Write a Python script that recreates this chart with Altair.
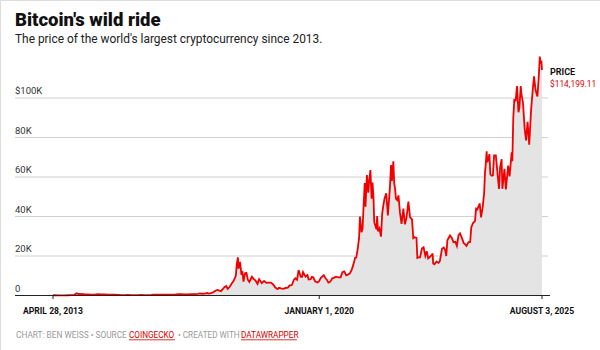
import altair as alt
import pandas as pd

dates = [
 "2013-04-28","2013-05-15","2013-06-15","2013-07-10","2013-08-15","2013-09-15","2013-10-15","2013-11-10","2013-11-30","2013-12-18","2013-12-31",
 "2014-01-15","2014-02-15","2014-03-15","2014-04-10","2014-05-15","2014-06-10","2014-07-15","2014-08-15","2014-09-15","2014-10-15","2014-11-15","2014-12-15",
 "2015-01-15","2015-02-15","2015-03-15","2015-04-15","2015-05-15","2015-06-15","2015-07-15","2015-08-15","2015-09-15","2015-10-15","2015-11-05","2015-12-15",
 "2016-01-15","2016-02-15","2016-03-15","2016-04-15","2016-05-15","2016-06-18","2016-07-15","2016-08-15","2016-09-15","2016-10-15","2016-11-15","2016-12-15",
 "2017-01-05","2017-01-20","2017-02-15","2017-03-10","2017-03-25","2017-04-15","2017-05-10","2017-05-25","2017-06-12","2017-07-15","2017-08-15","2017-09-01","2017-09-15","2017-10-01","2017-10-20","2017-11-08","2017-11-28","2017-12-07","2017-12-17","2017-12-22","2017-12-31",
 "2018-01-06","2018-01-17","2018-01-28","2018-02-06","2018-02-20","2018-03-05","2018-03-18","2018-04-01","2018-04-24","2018-05-10","2018-05-28","2018-06-15","2018-06-29","2018-07-24","2018-08-14","2018-09-04","2018-09-20","2018-10-15","2018-11-05","2018-11-25","2018-12-15","2018-12-28",
 "2019-01-15","2019-02-07","2019-02-25","2019-03-20","2019-04-03","2019-04-25","2019-05-14","2019-05-28","2019-06-12","2019-06-26","2019-07-16","2019-07-28","2019-08-06","2019-08-28","2019-09-15","2019-09-26","2019-10-15","2019-10-26","2019-11-07","2019-11-25","2019-12-18","2019-12-31",
 "2020-01-14","2020-02-12","2020-02-28","2020-03-12","2020-03-25","2020-04-10","2020-04-30","2020-05-12","2020-06-01","2020-06-25","2020-07-15","2020-08-01","2020-08-17","2020-09-05","2020-09-25","2020-10-10","2020-10-25","2020-11-08","2020-11-25","2020-12-05","2020-12-17","2020-12-31",
 "2021-01-08","2021-01-14","2021-01-22","2021-02-01","2021-02-10","2021-02-21","2021-02-28","2021-03-13","2021-03-25","2021-04-04","2021-04-14","2021-04-25","2021-05-03","2021-05-12","2021-05-19","2021-05-28","2021-06-08","2021-06-15","2021-06-22","2021-07-05","2021-07-20","2021-07-31","2021-08-10","2021-08-22","2021-09-06","2021-09-21","2021-10-01","2021-10-10","2021-10-20","2021-10-28","2021-11-10","2021-11-18","2021-11-26","2021-12-04","2021-12-15","2021-12-27",
 "2022-01-10","2022-01-24","2022-02-10","2022-02-24","2022-03-10","2022-03-28","2022-04-12","2022-04-30","2022-05-12","2022-05-25","2022-06-10","2022-06-18","2022-07-01","2022-07-13","2022-07-30","2022-08-14","2022-08-30","2022-09-12","2022-09-25","2022-10-10","2022-10-30","2022-11-05","2022-11-10","2022-11-21","2022-12-10","2022-12-30",
 "2023-01-10","2023-01-30","2023-02-15","2023-02-28","2023-03-10","2023-03-20","2023-04-13","2023-04-30","2023-05-15","2023-06-01","2023-06-15","2023-06-30","2023-07-14","2023-07-30","2023-08-17","2023-08-31","2023-09-11","2023-09-30","2023-10-15","2023-10-25","2023-11-10","2023-11-28","2023-12-08","2023-12-20",
 "2024-01-10","2024-01-23","2024-02-08","2024-02-20","2024-02-28","2024-03-05","2024-03-14","2024-03-20","2024-04-01","2024-04-08","2024-04-17","2024-04-30","2024-05-10","2024-05-21","2024-06-06","2024-06-24","2024-07-05","2024-07-15","2024-07-29","2024-08-05","2024-08-24","2024-09-06","2024-09-27","2024-10-10","2024-10-29","2024-11-04","2024-11-13","2024-11-22","2024-12-05","2024-12-17","2024-12-30",
 "2025-01-08","2025-01-20","2025-01-27","2025-02-10","2025-02-26","2025-03-10","2025-03-24","2025-04-08","2025-04-25","2025-05-10","2025-05-22","2025-06-05","2025-06-22","2025-07-03","2025-07-14","2025-07-20","2025-07-28","2025-08-03",
]
prices = [
 135,120,108,90,105,130,150,330,1100,700,750,
 850,620,580,450,450,650,620,520,420,380,380,340,
 210,230,280,220,240,240,285,230,230,260,420,450,
 400,400,415,430,450,720,660,575,610,640,700,780,
 1100,900,1000,1250,950,1180,1750,2400,2800,2200,4200,4800,3300,4300,5900,7400,10000,16000,19300,14000,14200,
 17000,11200,11800,7000,11300,11500,8000,6900,9500,8400,7500,5900,8200,6300,7400,6400,6500,6500,5600,4000,3250,3900,
 3600,3400,3800,4000,5000,5300,8000,8700,8000,12900,9500,9500,11800,9500,10300,8100,8300,9500,9300,7100,6600,7200,
 8800,10300,8700,7900,6500,6900,8800,8800,9500,9200,9200,11800,12200,10200,10700,11400,13100,15500,19100,19200,23000,29000,
 40000,37000,32000,33600,44800,57000,45000,61000,52000,58800,63500,49000,57200,50000,37000,35600,33500,40200,32500,34000,29800,41600,45500,49300,51800,40600,48200,55000,66000,58000,68000,56800,54000,49000,48300,50700,
 41800,36300,44000,36000,39300,47500,39700,38500,29000,29500,29200,19000,19300,19300,23800,24400,20100,22400,18800,19500,20600,21300,16200,15800,17100,16500,
 17400,23700,24300,23100,20000,28000,30400,29200,27000,27200,25100,30500,31500,29300,26500,25900,25100,27000,27100,34500,36700,37700,44000,43700,
 46600,39500,45300,52000,62500,66000,73000,67500,69700,71600,61300,60600,60800,71000,71000,60300,54000,64800,69000,54000,64100,53700,65800,60300,72500,68000,90000,99000,98800,106000,92800,
 95000,106000,102000,97400,84000,78500,88000,76300,94000,104000,111000,104000,100800,109500,121000,117300,119000,114199.11,
]

tick_dates = ["2013-04-28", "2020-01-01", "2025-08-03"]
tick_labels = ["APRIL 28, 2013", "JANUARY 1, 2020", "AUGUST 3, 2025"]
grid_values = [0, 20000, 40000, 60000, 80000, 100000]
grid_labels = ["0", "20K", "40K", "60K", "80K", "$100K"]

df = pd.DataFrame({"date": pd.to_datetime(dates), "price": prices})
grid_df = pd.DataFrame({"v": grid_values, "label": grid_labels})
ticks_df = pd.DataFrame({"date": pd.to_datetime(tick_dates), "label": tick_labels})

xs = alt.Scale(domain=[pd.Timestamp("2013-04-28").isoformat(), pd.Timestamp("2025-08-03").isoformat()],
               range=[53, 542])
ys = alt.Scale(domain=[0, 100000], range=[295.5, 98])

X = alt.X("date:T", scale=xs, axis=None)
Y = alt.Y("price:Q", scale=ys, axis=None)

FONT = "Roboto"

grid = alt.Chart(grid_df).transform_filter("datum.v > 0").mark_rule(color="#d0d0d0", strokeWidth=1).encode(
    y=alt.Y("v:Q", scale=ys, axis=None), x=alt.value(15), x2=alt.value(548))
grid_text = alt.Chart(grid_df).mark_text(align="left", baseline="alphabetic", dy=-4, fontSize=9.5,
                                         font=FONT, color="#333").encode(
    y=alt.Y("v:Q", scale=ys, axis=None), x=alt.value(15), text="label:N")

area = alt.Chart(df).mark_area(color="#e4e4e4").encode(x=X, y=Y)
line = alt.Chart(df).mark_line(color="#f20000", strokeWidth=1.8).encode(x=X, y=Y)

base_line = alt.Chart(grid_df).transform_filter("datum.v == 0").mark_rule(color="#222", strokeWidth=1).encode(
    y=alt.Y("v:Q", scale=ys, axis=None), x=alt.value(15), x2=alt.value(550))

tick_marks = alt.Chart(ticks_df).mark_rule(color="#222", strokeWidth=1).encode(
    x=alt.X("date:T", scale=xs, axis=None), y=alt.value(295.5), y2=alt.value(299))
tick_text = alt.Chart(ticks_df).mark_text(
    align="center", baseline="alphabetic", fontSize=8.6, fontWeight="bold", font=FONT, color="#111").encode(
    x=alt.X("date:T", scale=xs, axis=None), y=alt.value(313.5), text="label:N")

def txt(s, x, y, size, color="#111", weight="normal", font=FONT):
    return alt.Chart(pd.DataFrame({"t": [s]})).mark_text(
        align="left", baseline="alphabetic", fontSize=size, fontWeight=weight, font=font, color=color
    ).encode(x=alt.value(x), y=alt.value(y), text="t:N")

title = txt("Bitcoin's wild ride", 15, 26, 18.5, weight=900)
subtitle = txt("The price of the world's largest cryptocurrency since 2013.", 15, 42.5, 11.9, color="#222")
price_lbl = txt("PRICE", 550, 75, 9, weight="bold")
price_val = txt("$114,199.11", 550, 87, 8.4, color="#e00000")

f1 = txt("CHART: BEN WEISS \u2022 SOURCE", 16, 338, 8.3, color="#9a9a9a")
f2 = txt("COINGECKO", 129, 338, 8.2, color="#d40000")
f3 = txt("\u2022 CREATED WITH", 178, 338, 8.2, color="#9a9a9a")
f4 = txt("DATAWRAPPER", 241, 338, 8.2, color="#d40000")
u1 = alt.Chart(pd.DataFrame({"a": [0]})).mark_rule(color="#d40000", strokeWidth=0.8).encode(
    x=alt.value(129), x2=alt.value(175), y=alt.value(339.8))
u2 = alt.Chart(pd.DataFrame({"a": [0]})).mark_rule(color="#d40000", strokeWidth=0.8).encode(
    x=alt.value(241), x2=alt.value(297), y=alt.value(339.8))

chart = alt.layer(
    grid, area, grid_text, line, base_line, tick_marks, tick_text,
    title, subtitle, price_lbl, price_val, f1, f2, f3, f4, u1, u2
).properties(
    width=600, height=350, padding=0, autosize=alt.AutoSizeParams(type="none")
).configure_view(stroke=None).configure(background="white")

chart.save("out.html", embed_options={"renderer": "svg", "actions": False})
